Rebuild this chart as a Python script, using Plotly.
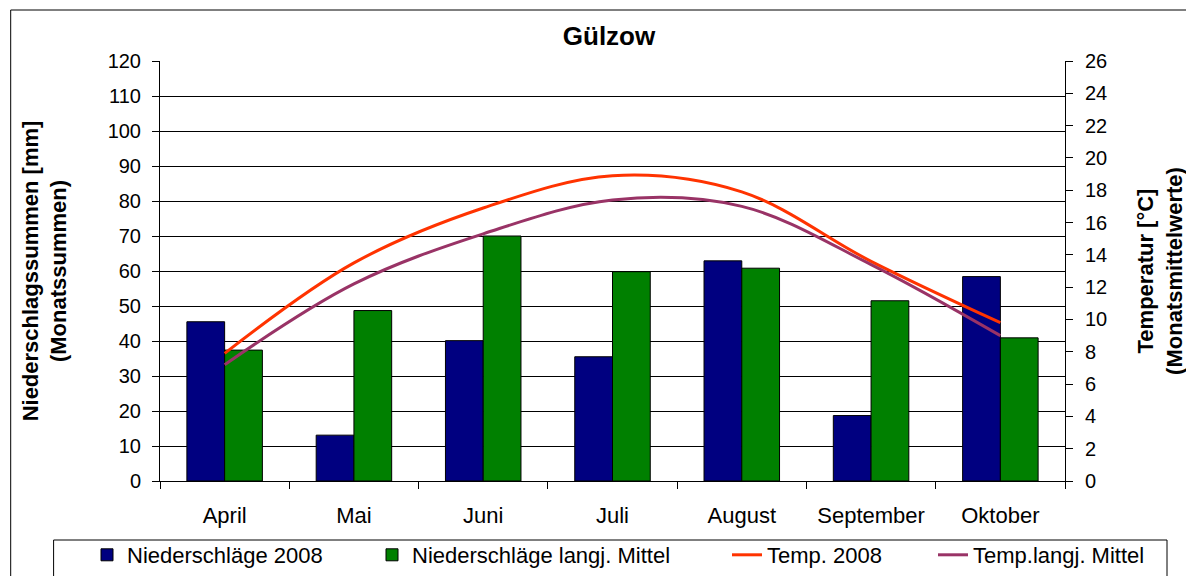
import plotly.graph_objects as go

months = ["April", "Mai", "Juni", "Juli", "August", "September", "Oktober"]
rain_2008 = [45.5, 13.1, 40.1, 35.5, 62.9, 18.7, 58.4]
rain_mean = [37.4, 48.7, 70.0, 59.8, 60.8, 51.5, 40.9]
temp_2008 = [7.9, 13.5, 16.9, 18.9, 17.9, 13.6, 9.8]
temp_mean = [7.2, 12.2, 15.3, 17.4, 17.0, 13.4, 9.0]

FONT = "Liberation Sans, Arial, sans-serif"
W, H = 1186, 568  # page body has an 8px margin

# left edge of legend text for each entry (page px), one legend per entry
legend_text_x = [127, 412, 767, 973]

fig = go.Figure()

fig.add_trace(go.Bar(
    x=months, y=rain_2008, name="Niederschläge 2008", legend="legend",
    marker=dict(color="#000080", line=dict(color="black", width=1)),
))
fig.add_trace(go.Bar(
    x=months, y=rain_mean, name="Niederschläge langj. Mittel", legend="legend2",
    marker=dict(color="#008000", line=dict(color="black", width=1)),
))
fig.add_trace(go.Scatter(
    x=months, y=temp_2008, name="Temp. 2008", yaxis="y2", legend="legend3",
    mode="lines", line=dict(color="#FF3300", width=3, shape="spline"),
))
fig.add_trace(go.Scatter(
    x=months, y=temp_mean, name="Temp.langj. Mittel", yaxis="y2", legend="legend4",
    mode="lines", line=dict(color="#993366", width=3, shape="spline"),
))
fig.update_traces(showlegend=True)


def legend_at(tx):
    return dict(
        orientation="h", x=(tx - 8 - 40) / W, xanchor="left", xref="container",
        y=1 - 547 / H, yanchor="middle", yref="container",
        font=dict(size=22), bgcolor="rgba(0,0,0,0)", borderwidth=0,
    )


fig.update_layout(
    width=W, height=H, autosize=False, showlegend=True,
    margin=dict(l=152, r=129, t=53, b=95),
    paper_bgcolor="white", plot_bgcolor="white",
    font=dict(family=FONT, size=20, color="black"),
    barmode="group", bargap=0.416, bargroupgap=0,
    title=dict(text="<b>Gülzow</b>", x=(609 - 8) / W, xanchor="center",
               y=1 - 28 / H, yanchor="middle",
               font=dict(size=26, family=FONT)),
    xaxis=dict(
        showline=True, linecolor="black", linewidth=1,
        ticks="outside", ticklen=7, tickcolor="black",
        tickson="boundaries", showgrid=False, automargin=False,
        tickfont=dict(size=22), ticklabelstandoff=15,
    ),
    yaxis=dict(
        range=[0, 120], dtick=10, showline=True, linecolor="black",
        linewidth=1, ticks="outside", ticklen=7, tickcolor="black",
        showgrid=True, gridcolor="black", gridwidth=1,
        zeroline=False, tickfont=dict(size=20), automargin=False,
        ticklabelstandoff=7,
        title=dict(text="<b>Niederschlagssummen [mm]<br>(Monatssummen)</b>",
                   font=dict(size=22), standoff=34),
    ),
    yaxis2=dict(
        range=[0, 26], dtick=2, overlaying="y", side="right",
        showline=True, linecolor="black", linewidth=1,
        ticks="outside", ticklen=7, tickcolor="black",
        showgrid=False, zeroline=False, tickfont=dict(size=20),
        automargin=False, ticklabelstandoff=8,
        title=dict(text="<b>Temperatur [°C]<br>(Monatsmittelwerte)</b>",
                   font=dict(size=22), standoff=31),
    ),
    legend=legend_at(legend_text_x[0]),
    legend2=legend_at(legend_text_x[1]),
    legend3=legend_at(legend_text_x[2]),
    legend4=legend_at(legend_text_x[3]),
    shapes=[
        # outer chart border
        dict(type="rect", xref="paper", yref="paper",
             x0=(10.7 - 160) / 905, x1=1.3, y0=-0.4, y1=(481 - 10) / 420,
             line=dict(color="black", width=1), layer="below"),
        # legend box
        dict(type="rect", xref="paper", yref="paper",
             x0=(53.6 - 160) / 905, x1=(1167 - 160) / 905,
             y0=-0.4, y1=(481 - 540) / 420,
             line=dict(color="black", width=1), layer="below"),
    ],
)

fig.write_html("out.html")
